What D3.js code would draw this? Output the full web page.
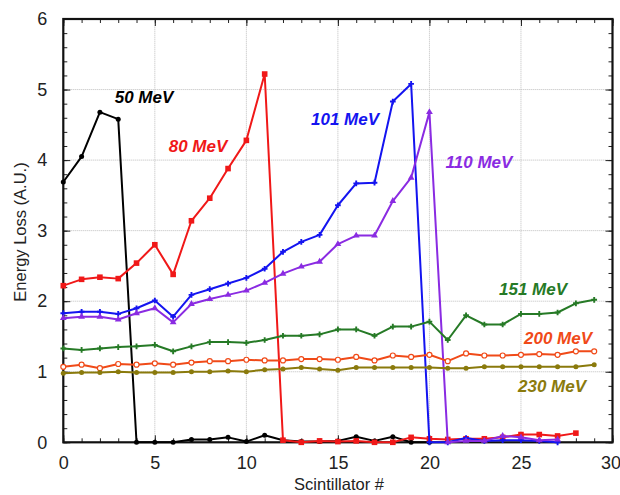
<!DOCTYPE html>
<meta charset="utf-8">
<style>
  body { margin: 0; background: white; }
  svg text { font-family: "Liberation Sans", Arial, sans-serif; }
</style>
<body>
<div id="chart"></div>
<script src="https://d3js.org/d3.v7.min.js"></script>
<script>

// scintillator index 0..29
var scint = d3.range(0, 30);

var e50  = [3.69, 4.05, 4.68, 4.58, 0, 0, 0, 0.04, 0.04, 0.07, 0.01, 0.10, 0.03, 0.01, 0.01, 0.02, 0.08, 0.02, 0.08, 0, 0];
var e80  = [2.22, 2.31, 2.34, 2.32, 2.54, 2.80, 2.38, 3.14, 3.46, 3.88, 4.28, 5.22, 0.03, 0, 0.02, 0.01, 0.02, 0, 0, 0.07, 0.05, 0.04, 0.05, 0.05, 0.07, 0.11, 0.11, 0.09, 0.13];
var e101 = [1.83, 1.85, 1.85, 1.82, 1.90, 2.01, 1.78, 2.09, 2.17, 2.25, 2.33, 2.46, 2.70, 2.84, 2.94, 3.36, 3.67, 3.68, 4.83, 5.08, 0, 0, 0.06, 0.02, 0.03, 0.03, 0.02, 0];
var e110 = [1.76, 1.78, 1.78, 1.74, 1.83, 1.90, 1.70, 1.96, 2.03, 2.09, 2.15, 2.26, 2.39, 2.49, 2.56, 2.81, 2.93, 2.93, 3.42, 3.75, 4.68, 0, 0.02, 0.02, 0.09, 0.07, 0.03, 0.04];
var e151 = [1.33, 1.31, 1.33, 1.35, 1.36, 1.38, 1.29, 1.36, 1.42, 1.42, 1.41, 1.45, 1.51, 1.51, 1.53, 1.60, 1.60, 1.51, 1.64, 1.64, 1.71, 1.45, 1.80, 1.67, 1.67, 1.82, 1.82, 1.84, 1.97, 2.02];
var e200 = [1.07, 1.10, 1.05, 1.11, 1.10, 1.12, 1.10, 1.13, 1.15, 1.15, 1.17, 1.16, 1.16, 1.18, 1.18, 1.17, 1.21, 1.16, 1.23, 1.21, 1.24, 1.15, 1.26, 1.23, 1.23, 1.24, 1.25, 1.24, 1.29, 1.29];
var e230 = [0.98, 0.99, 0.99, 1.00, 0.99, 0.99, 0.99, 1.00, 1.00, 1.01, 1.00, 1.03, 1.04, 1.06, 1.04, 1.02, 1.06, 1.06, 1.06, 1.06, 1.06, 1.05, 1.05, 1.07, 1.07, 1.07, 1.07, 1.07, 1.07, 1.10];

var xTicks = [0, 5, 10, 15, 20, 25, 30];
var yTicks = [0, 1, 2, 3, 4, 5, 6];

var series = [
  {name: "50 MeV",  values: e50,  color: "#000000", marker: "dot",      lx: 144, ly: 103},
  {name: "80 MeV",  values: e80,  color: "#f01818", marker: "square",   lx: 198, ly: 152},
  {name: "101 MeV", values: e101, color: "#1414f0", marker: "plus",     lx: 345, ly: 125},
  {name: "110 MeV", values: e110, color: "#8a2be2", marker: "triangle", lx: 479, ly: 168},
  {name: "151 MeV", values: e151, color: "#267a26", marker: "plus",     lx: 533, ly: 295},
  {name: "200 MeV", values: e200, color: "#f04a18", marker: "circleO",  lx: 558, ly: 344},
  {name: "230 MeV", values: e230, color: "#8a7a0c", marker: "dot",      lx: 552, ly: 392}
];

var W = 620, H = 495;
var x = d3.scaleLinear().domain([0, 30]).range([63.3, 612.5]);
var y = d3.scaleLinear().domain([0, 6]).range([442.3, 19]);

var svg = d3.select("#chart").append("svg")
  .attr("width", W).attr("height", H);

// grid
svg.append("g").selectAll("line").data(xTicks.slice(1, -1)).enter().append("line")
  .attr("x1", function(d){ return x(d); }).attr("x2", function(d){ return x(d); })
  .attr("y1", y(0)).attr("y2", y(6))
  .style("stroke", "#bdbdbd").style("stroke-width", 1).style("stroke-dasharray", "1,1");
svg.append("g").selectAll("line").data(yTicks.slice(1, -1)).enter().append("line")
  .attr("y1", function(d){ return y(d); }).attr("y2", function(d){ return y(d); })
  .attr("x1", x(0)).attr("x2", x(30))
  .style("stroke", "#bdbdbd").style("stroke-width", 1).style("stroke-dasharray", "1,1");

// axes with inward ticks, on all four sides
function styleAxis(g) {
  g.select(".domain").remove();
  g.selectAll(".tick line").style("stroke", "#222").style("stroke-width", 1);
  g.selectAll("text").style("font-size", "18px").style("fill", "#222");
}
var xMinor = d3.range(0, 31, 1), yMinor = d3.range(0, 6.01, 0.2);

svg.append("g").attr("transform", "translate(0," + y(0) + ")")
  .call(d3.axisBottom(x).tickValues(xMinor).tickSize(-4).tickFormat(""))
  .call(styleAxis);
var xAx = svg.append("g").attr("transform", "translate(0," + y(0) + ")")
  .call(d3.axisBottom(x).tickValues(xTicks).tickSize(-7).tickPadding(14).tickFormat(d3.format("d")))
  .call(styleAxis);
// last label sits at the window edge; nudge it inside
xAx.selectAll("text").filter(function(d){ return d === 30; }).attr("dx", -2);

svg.append("g").attr("transform", "translate(0," + y(6) + ")")
  .call(d3.axisTop(x).tickValues(xMinor).tickSize(-4).tickFormat(""))
  .call(styleAxis);
svg.append("g").attr("transform", "translate(0," + y(6) + ")")
  .call(d3.axisTop(x).tickValues(xTicks).tickSize(-7).tickFormat(""))
  .call(styleAxis);

svg.append("g").attr("transform", "translate(" + x(0) + ",0)")
  .call(d3.axisLeft(y).tickValues(yMinor).tickSize(-4).tickFormat(""))
  .call(styleAxis);
svg.append("g").attr("transform", "translate(" + x(0) + ",0)")
  .call(d3.axisLeft(y).tickValues(yTicks).tickSize(-7).tickPadding(16).tickFormat(d3.format("d")))
  .call(styleAxis);
svg.append("g").attr("transform", "translate(" + x(30) + ",0)")
  .call(d3.axisRight(y).tickValues(yMinor).tickSize(-4).tickFormat(""))
  .call(styleAxis);
svg.append("g").attr("transform", "translate(" + x(30) + ",0)")
  .call(d3.axisRight(y).tickValues(yTicks).tickSize(-7).tickFormat(""))
  .call(styleAxis);

// frame
svg.append("rect")
  .attr("x", x(0)).attr("y", y(6))
  .attr("width", x(30) - x(0)).attr("height", y(0) - y(6))
  .style("fill", "none").style("stroke", "#111").style("stroke-width", 2.2);

// lines + markers
var line = d3.line()
  .x(function(d, i){ return x(scint[i]); })
  .y(function(d){ return y(d); });

series.forEach(function(s) {
  var g = svg.append("g");
  g.append("path").datum(s.values).attr("d", line)
    .style("fill", "none").style("stroke", s.color).style("stroke-width", 2)
    .style("stroke-linejoin", "round");

  var pts = g.selectAll(".pt").data(s.values).enter();
  if (s.marker === "dot") {
    pts.append("circle").attr("cx", function(d, i){ return x(scint[i]); }).attr("cy", function(d){ return y(d); })
      .attr("r", 2.5).style("fill", s.color);
  } else if (s.marker === "square") {
    pts.append("rect").attr("x", function(d, i){ return x(scint[i]) - 2.8; }).attr("y", function(d){ return y(d) - 2.8; })
      .attr("width", 5.6).attr("height", 5.6).style("fill", s.color);
  } else if (s.marker === "triangle") {
    pts.append("path").attr("d", d3.symbol().type(d3.symbolTriangle).size(20))
      .attr("transform", function(d, i){ return "translate(" + x(scint[i]) + "," + y(d) + ")"; })
      .style("fill", s.color);
  } else if (s.marker === "plus") {
    pts.append("path").attr("d", d3.symbol().type(d3.symbolCross).size(18))
      .attr("transform", function(d, i){ return "translate(" + x(scint[i]) + "," + y(d) + ")"; })
      .style("fill", s.color);
  } else if (s.marker === "circleO") {
    pts.append("circle").attr("cx", function(d, i){ return x(scint[i]); }).attr("cy", function(d){ return y(d); })
      .attr("r", 2.5).style("fill", "white").style("stroke", s.color).style("stroke-width", 1.2);
  }

  svg.append("text")
    .attr("x", s.lx).attr("y", s.ly)
    .attr("text-anchor", "middle")
    .style("font-size", "17px").style("font-weight", "bold").style("font-style", "italic")
    .style("fill", s.color)
    .text(s.name);
});

// axis titles
svg.append("text")
  .attr("x", 339).attr("y", 490)
  .attr("text-anchor", "middle")
  .style("font-size", "16.5px").style("fill", "#222")
  .text("Scintillator #");

svg.append("text")
  .attr("transform", "translate(26,232) rotate(-90)")
  .attr("text-anchor", "middle")
  .style("font-size", "16.5px").style("fill", "#222")
  .text("Energy Loss (A.U.)");

</script>
</body>
